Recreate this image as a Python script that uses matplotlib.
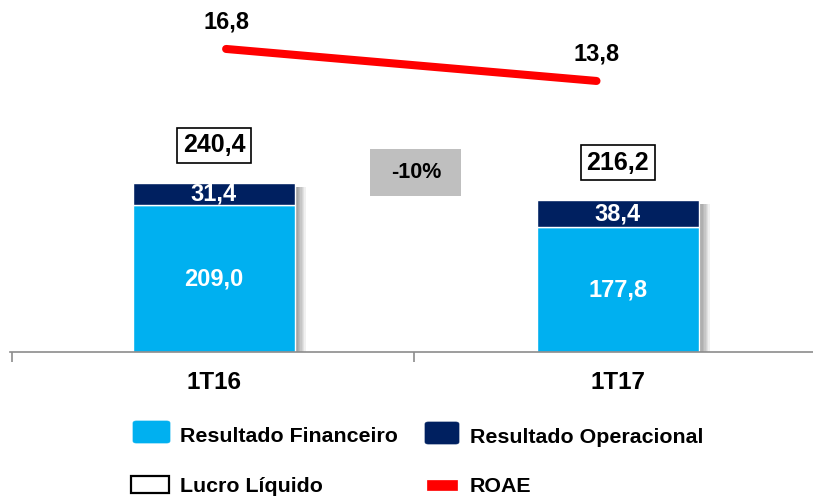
import matplotlib
matplotlib.use("Agg")
import matplotlib.pyplot as plt
import matplotlib.patheffects as pe
from matplotlib.patches import Rectangle, FancyBboxPatch
from matplotlib.transforms import blended_transform_factory
import numpy as np

plt.rcParams['font.family'] = ['Liberation Sans', 'DejaVu Sans']
plt.rcParams['font.weight'] = 'bold'

categories = ['1T16', '1T17']
res_financeiro = [209.0, 177.8]
res_operacional = [31.4, 38.4]
lucro_liquido = [240.4, 216.2]
roae = [16.8, 13.8]
variation_label = '-10%'
series_names = ['Resultado Financeiro', 'Resultado Operacional', 'Lucro Líquido', 'ROAE']

C_FIN = '#00B0F0'
C_OPE = '#002060'
C_ROAE = '#FF0000'
C_AXIS = '#8C8C8C'

W, H = 813, 497
fig = plt.figure(figsize=(W / 100, H / 100), dpi=100)

def fx(x):
    return x / W

def fy(y):
    return 1 - y / H

ax_left, ax_right, ax_bottom, ax_top = 10, 813, 352, 0
ax = fig.add_axes([fx(ax_left), fy(ax_bottom), (ax_right - ax_left) / W, (ax_bottom - ax_top) / H])
ax.set_xlim(-0.505, 1.483)
ax.set_ylim(0, 500.7)

pos = np.arange(len(categories))
bw = 0.4

# shadow base bars
shadow = [pe.SimplePatchShadow(offset=(o, -3), shadow_rgbFace='k', alpha=0.06) for o in (1, 2, 3, 4, 5, 6, 7, 8)]
ax.bar(pos, lucro_liquido, bw, color='white', zorder=1,
       path_effects=shadow + [pe.Normal()])
ax.bar(pos, res_financeiro, bw, color=C_FIN, edgecolor='white', linewidth=1, zorder=2)
ax.bar(pos, res_operacional, bw, bottom=res_financeiro, color=C_OPE, edgecolor='white', linewidth=1, zorder=2)

for i in pos:
    ax.text(i, res_financeiro[i] / 2, f"{res_financeiro[i]:.1f}".replace('.', ','),
            ha='center', va='center', color='white', fontsize=17, fontweight='bold', zorder=3)
    ax.text(i, res_financeiro[i] + res_operacional[i] / 2, f"{res_operacional[i]:.1f}".replace('.', ','),
            ha='center', va='center', color='white', fontsize=17, fontweight='bold', zorder=3)
    ax.annotate(f"{lucro_liquido[i]:.1f}".replace('.', ','), (i, lucro_liquido[i]),
                xytext=(0, 27), textcoords='offset points', ha='center', va='center',
                fontsize=18, fontweight='bold', zorder=3,
                bbox=dict(boxstyle='square,pad=0.22', fc='white', ec='black', lw=1.2))

# variation box
tr = blended_transform_factory(ax.transData, ax.transAxes)
bx_w, bx_h, bx_cy = 91 / 404, 47 / 352, (352 - 172) / 352
ax.add_patch(Rectangle((0.5 - bx_w / 2, bx_cy - bx_h / 2), bx_w, bx_h, transform=tr,
                       facecolor='#BFBFBF', edgecolor='none', zorder=3))
ax.text(0.5, bx_cy, variation_label, transform=tr, ha='center', va='center',
        fontsize=15.5, fontweight='bold', zorder=4)

# axis styling
for s in ['top', 'right', 'left']:
    ax.spines[s].set_visible(False)
ax.spines['bottom'].set_color(C_AXIS)
ax.spines['bottom'].set_linewidth(1.2)
ax.set_yticks([])
ax.set_xticks(pos)
ax.set_xticklabels(categories, fontsize=17.5, fontweight='bold')
ax.tick_params(axis='x', which='major', length=0, pad=14)
ax.set_xticks([-0.5, 0.494], minor=True)
ax.tick_params(axis='x', which='minor', length=7, color=C_AXIS, width=1.2, direction='out')
ax.set_facecolor('none')

# ROAE secondary axis
ax2 = ax.twinx()
ax2.set_ylim(-11.61, 21.39)
ax2.set_yticks([])
for s in ax2.spines.values():
    s.set_visible(False)
inset_l, inset_r = 0.03, 0.053
lx = pos * (1 - inset_l - inset_r) + inset_l
ax2.plot(lx, roae, color=C_ROAE, lw=5.8, solid_capstyle='round', zorder=5)
for xv, v in zip(lx, roae):
    ax2.annotate(f"{v:.1f}".replace('.', ','), (xv, v), xytext=(0, 19.5), textcoords='offset points',
                 ha='center', va='center', fontsize=17, fontweight='bold')

# legend (manual)
def leg_patch(x0, y0, x1, y1, fc, ec, lw, rounded=True):
    style = 'round,pad=0,rounding_size=0.004' if rounded else 'square,pad=0'
    fig.add_artist(FancyBboxPatch((fx(x0), fy(y1)), fx(x1) - fx(x0), fy(y0) - fy(y1),
                                  boxstyle=style, transform=fig.transFigure,
                                  facecolor=fc, edgecolor=ec, linewidth=lw))

leg_patch(133, 421, 170, 443, C_FIN, C_FIN, 0.5)
leg_patch(425, 422, 459, 444, C_OPE, C_OPE, 0.5)
leg_patch(131, 476, 169, 493, 'white', 'black', 1.6, rounded=False)
leg_patch(427, 480, 457, 490, C_ROAE, C_ROAE, 0.5, rounded=False)

fig.text(fx(180), fy(442), series_names[0], fontsize=15.4, fontweight='bold', va='baseline')
fig.text(fx(470), fy(443), series_names[1], fontsize=15.4, fontweight='bold', va='baseline')
fig.text(fx(180), fy(492), series_names[2], fontsize=15.4, fontweight='bold', va='baseline')
fig.text(fx(470), fy(492), series_names[3], fontsize=15.4, fontweight='bold', va='baseline')

fig.savefig('out.png', dpi=100)
